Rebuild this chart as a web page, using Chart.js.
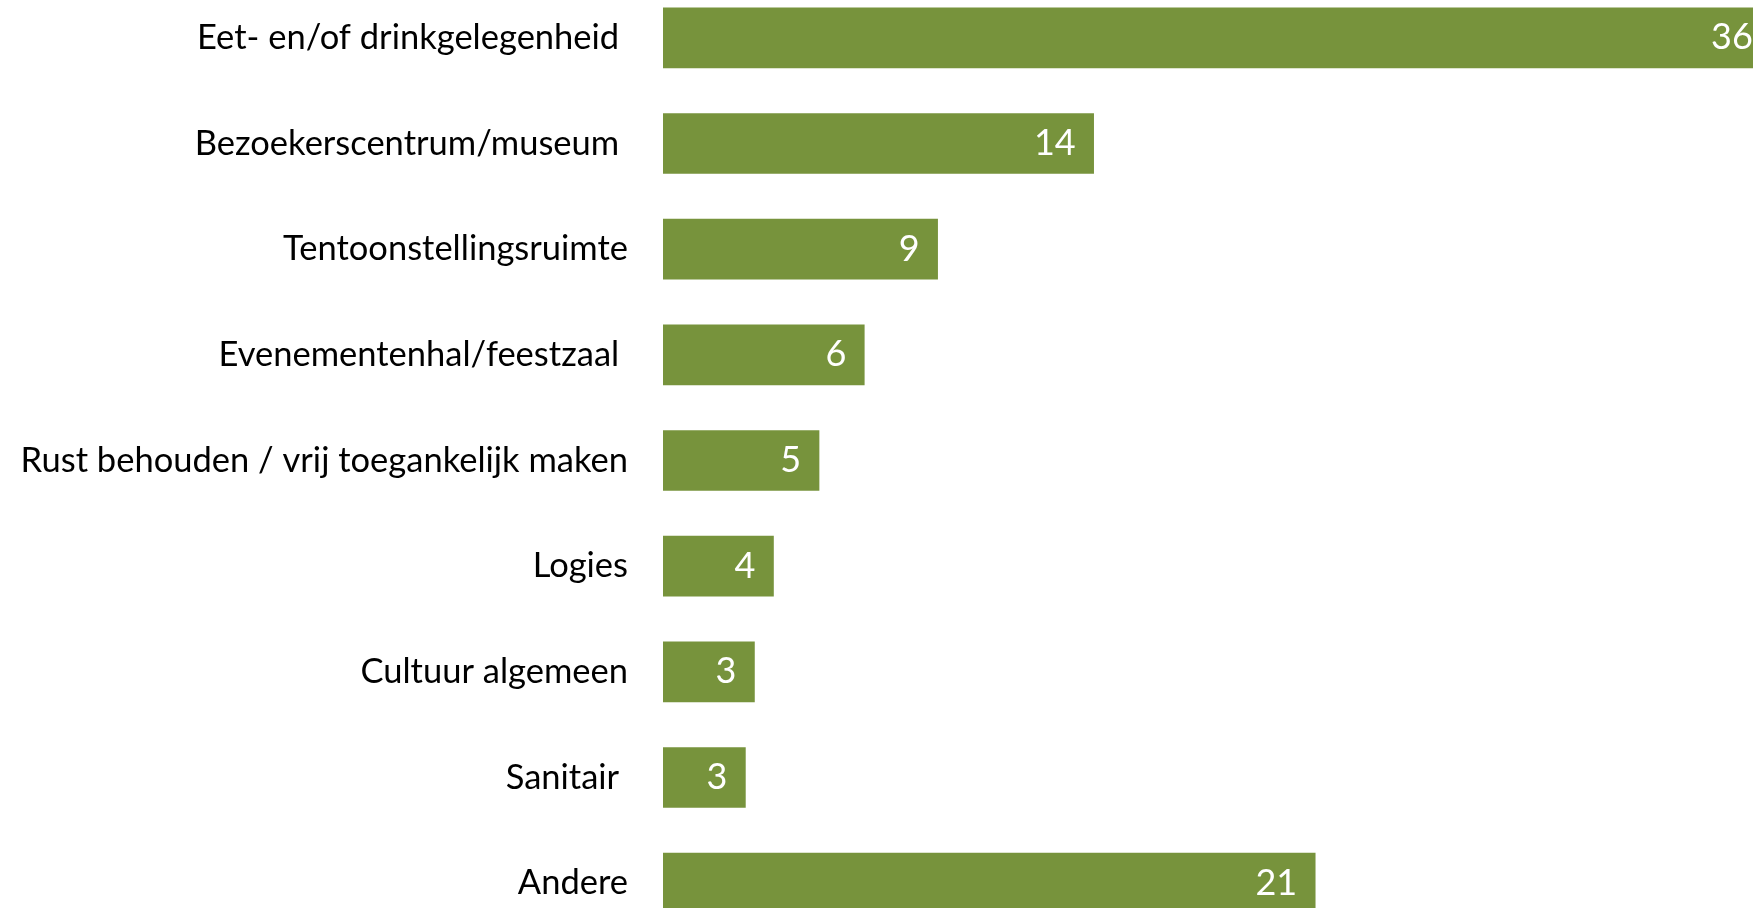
<!DOCTYPE html>
<html>
<head>
<meta charset="utf-8">
<script src="https://cdn.jsdelivr.net/npm/chart.js"></script>
<style>
  html, body { margin: 0; padding: 0; background: #fff; overflow: hidden; width: 1753px; height: 908px; }
  .chart-box { position: absolute; left: 0; top: -15px; width: 1802px; height: 951px; }
</style>
</head>
<body>
<div class="chart-box"><canvas id="barChart"></canvas></div>
<script>
// categories (trailing spaces as in the original labels)
const categories = [
    'Eet- en/of drinkgelegenheid ',
    'Bezoekerscentrum/museum ',
    'Tentoonstellingsruimte',
    'Evenementenhal/feestzaal ',
    'Rust behouden / vrij toegankelijk maken',
    'Logies',
    'Cultuur algemeen',
    'Sanitair ',
    'Andere'
];
// values, labels show them rounded
const shares = [35.5, 13.8, 8.8, 6.45, 5.0, 3.54, 2.93, 2.64, 20.9];

// white value labels at the end of each bar
const barValueLabels = {
    id: 'barValueLabels',
    afterDatasetsDraw(chart) {
        const ctx = chart.ctx;
        const meta = chart.getDatasetMeta(0);
        ctx.save();
        ctx.fillStyle = '#fff';
        ctx.font = '36px Lato';
        ctx.textAlign = 'right';
        ctx.textBaseline = 'middle';
        meta.data.forEach((bar, i) => {
            ctx.fillText(Math.round(shares[i]), bar.x - 18, bar.y);
        });
        ctx.restore();
    }
};

const barChart = document.getElementById('barChart').getContext('2d');
new Chart(barChart, {
    type: 'bar',
    data: {
        labels: categories,
        datasets: [{
            data: shares,
            backgroundColor: '#77933C',
            borderWidth: 0,
            barThickness: 60
        }]
    },
    options: {
        indexAxis: 'y',
        responsive: true,
        maintainAspectRatio: false,
        animation: false,
        layout: {
            padding: 0
        },
        plugins: {
            legend: {
                display: false
            },
            tooltip: {
                enabled: false
            }
        },
        scales: {
            x: {
                display: false,
                min: 0,
                max: 36.5
            },
            y: {
                grid: {
                    display: false,
                    drawTicks: false
                },
                border: {
                    display: false
                },
                ticks: {
                    color: '#000',
                    padding: 35,
                    font: {
                        family: 'Lato',
                        size: 34.5
                    }
                },
                afterFit(scale) {
                    scale.width = 663;
                    // no extra room above/below for the tick labels
                    scale.paddingTop = 0;
                    scale.paddingBottom = 0;
                }
            }
        }
    },
    plugins: [barValueLabels]
});
</script>
</body>
</html>
